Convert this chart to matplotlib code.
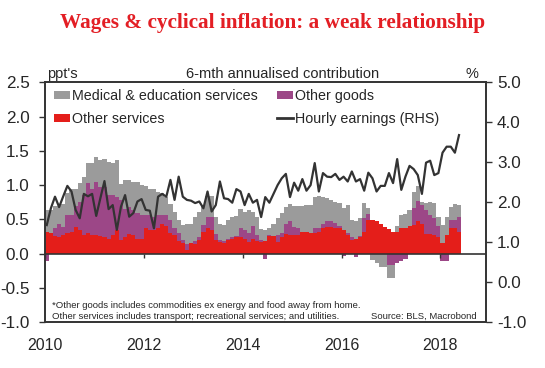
import numpy as np
import matplotlib
matplotlib.use("Agg")
import matplotlib.pyplot as plt
from matplotlib.patches import Patch
from matplotlib.lines import Line2D

plt.rcParams['font.family'] = ['Liberation Sans', 'DejaVu Sans']

# monthly data, Jan 2010 - May 2018 (ppt contributions, 6-mth annualised)
other_services = [
    0.31, 0.30, 0.26, 0.25, 0.27, 0.30, 0.31, 0.39, 0.35, 0.27, 0.30, 0.27,
    0.27, 0.26, 0.25, 0.22, 0.27, 0.35, 0.20, 0.24, 0.29, 0.27, 0.22, 0.22,
    0.37, 0.35, 0.35, 0.37, 0.43, 0.40, 0.30, 0.27, 0.19, 0.15, 0.06, 0.15,
    0.14, 0.20, 0.31, 0.38, 0.35, 0.20, 0.175, 0.16, 0.20, 0.22, 0.24, 0.25,
    0.21, 0.175, 0.22, 0.19, 0.175, 0.19, 0.26, 0.26, 0.175, 0.25, 0.29, 0.27,
    0.27, 0.27, 0.31, 0.31, 0.30, 0.30, 0.32, 0.38, 0.39, 0.39, 0.38,
    0.37, 0.35, 0.27, 0.20, 0.22, 0.24, 0.32, 0.49, 0.49, 0.47, 0.43, 0.39,
    0.36, 0.32, 0.32, 0.38, 0.37, 0.40, 0.42, 0.47, 0.44, 0.29, 0.29, 0.27,
    0.25, 0.16, 0.27, 0.38, 0.38, 0.32,
]
other_goods = [
    -0.10, 0.00, 0.11, 0.18, 0.12, 0.26, 0.25, 0.31, 0.41, 0.59, 0.73, 0.68,
    0.78, 0.72, 0.73, 0.64, 0.59, 0.48, 0.58, 0.41, 0.39, 0.37, 0.37, 0.34,
    0.20, 0.21, 0.19, 0.19, 0.13, 0.16, 0.19, 0.10, 0.11, 0.05, 0.08, 0.00,
    0.05, 0.05, 0.11, 0.16, 0.18, 0.09, 0.02, 0.03, 0.02, 0.03, 0.02, 0.12,
    0.14, 0.12, 0.18, 0.08, 0.03, -0.07, 0.01, 0.00, 0.10, 0.05, 0.14, 0.20,
    0.12, 0.11, 0.01, 0.00, 0.00, 0.07, 0.05, 0.05, 0.09, 0.08, 0.07,
    0.03, -0.04, 0.03, 0.04, -0.05, 0.02, 0.20, 0.09, 0.00, 0.00, 0.00, 0.00,
    -0.17, -0.17, -0.14, -0.10, -0.08, 0.00, 0.24, 0.30, 0.27, 0.35, 0.27, 0.25,
    0.15, -0.10, -0.10, 0.11, 0.11, 0.21,
]
med_edu = [
    0.33, 0.34, 0.33, 0.27, 0.34, 0.33, 0.38, 0.25, 0.27, 0.26, 0.30, 0.38,
    0.36, 0.39, 0.40, 0.48, 0.46, 0.53, 0.24, 0.43, 0.39, 0.41, 0.46, 0.44,
    0.42, 0.39, 0.41, 0.34, 0.33, 0.27, 0.24, 0.24, 0.19, 0.22, 0.30, 0.28,
    0.35, 0.36, 0.29, 0.30, 0.31, 0.25, 0.24, 0.23, 0.27, 0.29, 0.29, 0.28,
    0.26, 0.34, 0.21, 0.27, 0.16, 0.16, 0.10, 0.18, 0.25, 0.30, 0.25, 0.26,
    0.31, 0.31, 0.38, 0.40, 0.41, 0.46, 0.47, 0.39, 0.33, 0.31, 0.31,
    0.34, 0.31, 0.41, 0.25, 0.26, 0.26, 0.22, 0.08, -0.09, -0.13, -0.19, -0.19,
    -0.19, -0.19, 0.08, 0.18, 0.21, 0.24, 0.24, 0.22, 0.05, 0.10, 0.20, 0.22,
    0.14, 0.26, 0.26, 0.19, 0.24, 0.18,
]
# hourly earnings, % (RHS)
earnings = [
    1.43, 1.85, 2.14, 1.88, 2.15, 2.41, 2.27, 1.81, 1.60, 2.21, 2.15, 2.21,
    1.66, 2.10, 2.53, 1.83, 1.93, 1.31, 1.89, 2.18, 1.64, 1.73, 2.02, 2.08,
    1.81, 1.79, 1.35, 2.14, 2.21, 2.14, 2.56, 2.06, 2.64, 2.14, 2.06, 2.04,
    1.98, 2.02, 1.85, 2.27, 1.77, 1.93, 2.52, 2.10, 2.08, 1.99, 2.33, 2.27,
    1.93, 2.21, 1.99, 2.06, 1.63, 2.13, 1.99, 2.21, 2.43, 2.60, 2.71, 2.13,
    2.49, 2.29, 2.58, 2.29, 2.43, 2.98, 2.27, 2.73, 2.64, 2.63, 2.71,
    2.56, 2.64, 2.52, 2.77, 2.52, 2.58, 2.29, 2.74, 2.60, 2.27, 2.41, 2.41,
    2.73, 2.48, 3.08, 2.31, 2.64, 2.91, 2.83, 2.68, 2.21, 2.99, 3.04, 2.68,
    2.73, 3.24, 3.39, 3.39, 3.24, 3.68,
]
years = [2010, 2012, 2014, 2016, 2018]

RED = '#e41e1a'
PURPLE = '#9c4787'
GREY = '#9b9b9b'
DARK = '#333333'
TXT = '#262626'

x = 2010 + np.arange(len(earnings)) / 12.0

fig = plt.figure(figsize=(5.45, 3.68), dpi=100)
ax = fig.add_axes([0.082, 0.1242, 0.8097, 0.6522])
ax2 = ax.twinx()

# stacked bars, positives up and negatives down
pos_base = np.zeros(len(x))
neg_base = np.zeros(len(x))
for vals, col in [(other_services, RED), (other_goods, PURPLE), (med_edu, GREY)]:
    v = np.array(vals)
    p = np.clip(v, 0, None)
    n = np.clip(v, None, 0)
    ax.bar(x, p, width=1 / 12 + 0.002, align='edge', bottom=pos_base, color=col, linewidth=0)
    ax.bar(x, n, width=1 / 12 + 0.002, align='edge', bottom=neg_base, color=col, linewidth=0)
    pos_base += p
    neg_base += n

ax.axhline(0, color=DARK, lw=1.2)
ax.vlines(years, -0.06, 0, color=DARK, lw=1.0)

ax2.plot(x + 1 / 24, earnings, color=DARK, lw=1.6)

ax.set_xlim(2010, 2018.92)
ax.set_ylim(-1.0, 2.5)
ax2.set_ylim(-1.0, 5.0)
ax.set_yticks(np.arange(-1.0, 2.51, 0.5))
ax.set_yticklabels([f"{v:.1f}" for v in np.arange(-1.0, 2.51, 0.5)])
ax2.set_yticks(np.arange(-1.0, 5.01, 1.0))
ax2.set_yticklabels([f"{v:.1f}" for v in np.arange(-1.0, 5.01, 1.0)])
ax.set_xticks(years)
ax.set_xticklabels([str(y) for y in years])

ax.tick_params(axis='y', direction='out', length=4, width=1, color=DARK,
               labelsize=12.3, labelcolor=TXT, pad=7)
ax2.tick_params(axis='y', direction='out', length=4, width=1, color=DARK,
                labelsize=12.3, labelcolor=TXT, pad=4)
ax.tick_params(axis='x', length=0, labelsize=11.5, labelcolor=TXT, pad=11)
for a in (ax, ax2):
    for s in a.spines.values():
        s.set_color(DARK)
        s.set_linewidth(1.2)

handles = [
    Patch(facecolor=GREY, label='Medical & education services'),
    Patch(facecolor=RED, label='Other services'),
    Patch(facecolor=PURPLE, label='Other goods'),
    Line2D([], [], color=DARK, lw=2, label='Hourly earnings (RHS)'),
]
ax2.legend(handles=handles, ncol=2, loc='upper left',
           bbox_to_anchor=(0.099, 0.758), bbox_transform=fig.transFigure,
           frameon=False, fontsize=10.3, borderpad=0, borderaxespad=0,
           handlelength=1.1, handleheight=0.5, handletextpad=0.15,
           columnspacing=1.35, labelspacing=0.62, labelcolor=TXT)

fig.text(0.5, 0.937, 'Wages & cyclical inflation: a weak relationship',
         ha='center', va='center', color='#e31e24', fontsize=15.3,
         fontweight='bold', family=['Liberation Serif', 'DejaVu Serif'])
fig.text(0.087, 0.80, "ppt's", ha='left', va='center', fontsize=10.5, color=TXT)
fig.text(0.519, 0.80, '6-mth annualised contribution', ha='center', va='center',
         fontsize=10.5, color=TXT)
fig.text(0.866, 0.80, '%', ha='center', va='center', fontsize=10.5, color=TXT)

fig.text(0.095, 0.170, '*Other goods includes commodities ex energy and food away from home.',
         ha='left', va='center', fontsize=6.8, color=TXT)
fig.text(0.095, 0.141, 'Other services includes transport; recreational services; and utilities.',
         ha='left', va='center', fontsize=6.8, color=TXT)
fig.text(0.874, 0.141, 'Source: BLS, Macrobond', ha='right', va='center',
         fontsize=6.8, color=TXT)

fig.savefig('out.png', dpi=100)
